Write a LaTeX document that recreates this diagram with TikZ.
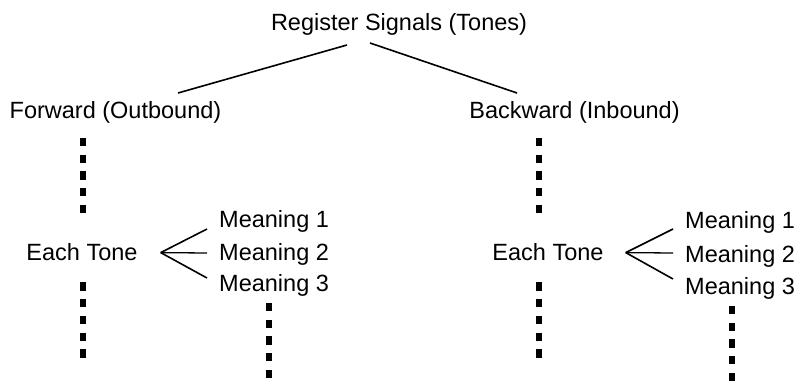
\documentclass[tikz,border=0pt]{standalone}
\usepackage{fontspec}
\setmainfont{Liberation Sans}
\usetikzlibrary{calc}

\begin{document}
\begin{tikzpicture}[x=1pt, y=-1pt, every node/.style={inner sep=0pt, font=\fontsize{23.5}{28}\selectfont}]
			\tikzstyle{branch}=[line width=1.6pt]
			\tikzstyle{dots}=[line width=5.5pt, dash pattern=on 8.3pt off 8.4pt]
			\useasboundingbox (0,0) rectangle (799,381);
			% tree heads
			\node[anchor=base](root) at (399, 30){Register Signals (Tones)};
			\node[anchor=base](fwd) at (115.5, 118){Forward (Outbound)};
			\node[anchor=base](bwd) at (574.5, 118){Backward (Inbound)};
			\draw[branch] ($(root.base)+(-52,15)$) -- ($(fwd.base)+(62.5,-25)$);
			\draw[branch] ($(root.base)+(-29,13)$) -- ($(bwd.base)+(-57.5,-25)$);
			% outbound side
			\node[anchor=base](tonefwd) at (82, 260){Each Tone};
			\node[anchor=base west](fwdA) at (219, 227){Meaning 1};
			\node[anchor=base west](fwdB) at (219, 260){Meaning 2};
			\node[anchor=base west](fwdC) at (219, 291){Meaning 3};
			\coordinate (forkfwd) at ($(tonefwd.east)+(23,1)$);
			\draw[branch] (forkfwd) -- ($(fwdA.base west)+(-12,2)$);
			\draw[line width=1.3pt] (forkfwd) -- ($(fwdB.base west)+(-12,-7)$);
			\draw[branch] (forkfwd) -- ($(fwdC.base west)+(-12,-13)$);
			\draw[dots] ($(tonefwd.north |- fwd.south)+(1,15)$) -- ($(tonefwd.north)+(1,-30)$);
			\draw[dots] ($(tonefwd.south)+(1,22)$) -- ++(0,76);
			\draw[dots] ($(fwdC.south)+(-5,7)$) -- ++(0,78);
			% inbound side
			\node[anchor=base](tonebwd) at (548, 260){Each Tone};
			\node[anchor=base west](bwdA) at (685, 228){Meaning 1};
			\node[anchor=base west](bwdB) at (685, 262){Meaning 2};
			\node[anchor=base west](bwdC) at (685, 294){Meaning 3};
			\coordinate (forkbwd) at ($(tonebwd.east)+(22,1)$);
			\draw[branch] (forkbwd) -- ($(bwdA.base west)+(-12,1)$);
			\draw[line width=1.3pt] (forkbwd) -- ($(bwdB.base west)+(-12,-9)$);
			\draw[branch] (forkbwd) -- ($(bwdC.base west)+(-12,-15)$);
			\draw[dots] ($(tonebwd.north |- bwd.south)+(-9,15)$) -- ($(tonebwd.north)+(-9,-30)$);
			\draw[dots] ($(tonebwd.south)+(-9,22)$) -- ++(0,76);
			\draw[dots] ($(bwdC.south)+(-8,7)$) -- ++(0,75);
\end{tikzpicture}
\end{document}
